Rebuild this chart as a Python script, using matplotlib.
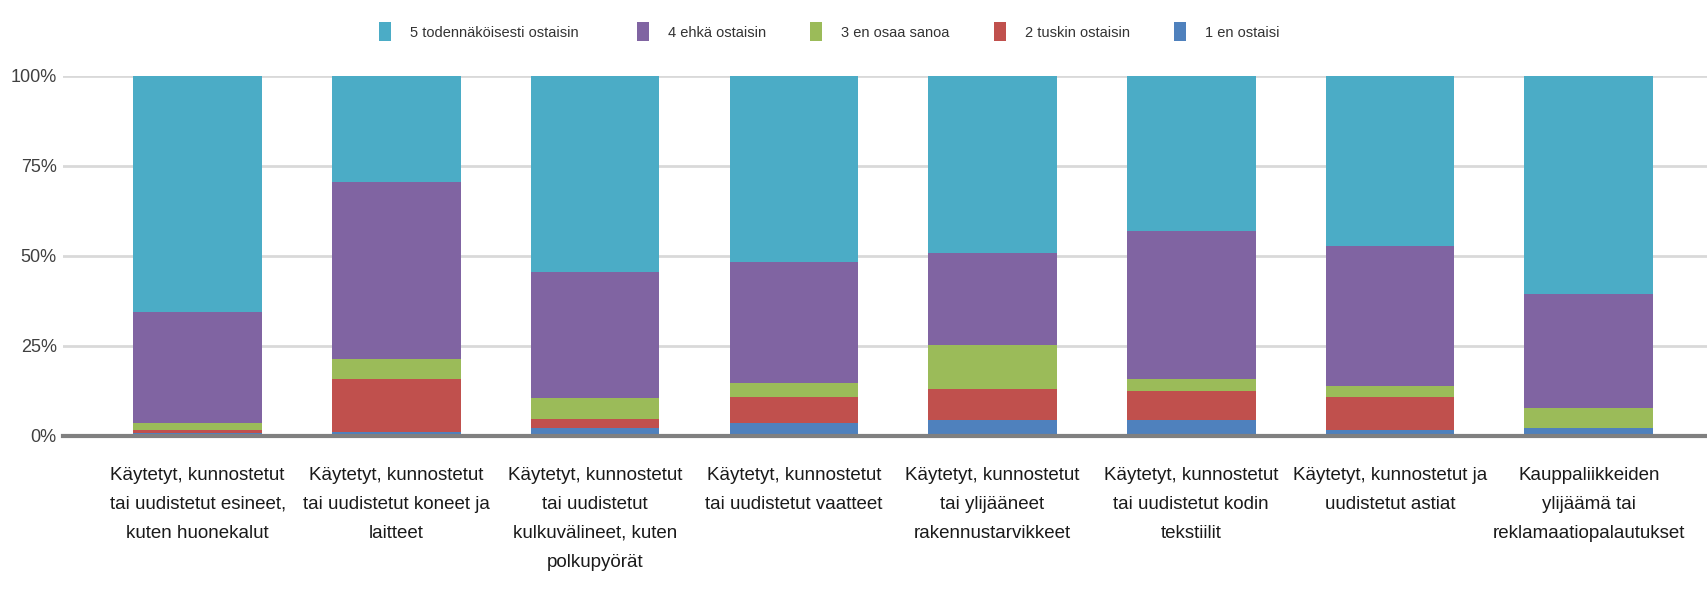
import matplotlib.pyplot as plt
import numpy as np

# ======== data (percent of answers) ===============================
categories = [
    "Käytetyt, kunnostetut\ntai uudistetut esineet,\nkuten huonekalut",
    "Käytetyt, kunnostetut\ntai uudistetut koneet ja\nlaitteet",
    "Käytetyt, kunnostetut\ntai uudistetut\nkulkuvälineet, kuten\npolkupyörät",
    "Käytetyt, kunnostetut\ntai uudistetut vaatteet",
    "Käytetyt, kunnostetut\ntai ylijääneet\nrakennustarvikkeet",
    "Käytetyt, kunnostetut\ntai uudistetut kodin\ntekstiilit",
    "Käytetyt, kunnostetut ja\nuudistetut astiat",
    "Kauppaliikkeiden\nylijäämä tai\nreklamaatiopalautukset",
]

en_ostaisi = [0.8, 1.0, 2.3, 3.7, 4.3, 4.3, 1.7, 2.2]
tuskin = [0.9, 14.7, 2.5, 7.2, 8.7, 8.2, 9.2, 0.0]
en_osaa = [2.0, 5.6, 5.7, 3.7, 12.3, 3.3, 3.0, 5.5]
ehka = [30.8, 49.2, 35.1, 33.6, 25.6, 41.1, 39.0, 31.7]
todennakoisesti = [65.5, 29.5, 54.4, 51.8, 49.1, 43.1, 47.1, 60.6]

series_names = ["1 en ostaisi", "2 tuskin ostaisin", "3 en osaa sanoa",
                "4 ehkä ostaisin", "5 todennäköisesti ostaisin"]
series_colors = ["#4F81BD", "#C0504D", "#9BBB59", "#8064A2", "#4BACC6"]
y_ticks = [0, 25, 50, 75, 100]
y_tick_labels = ["0%", "25%", "50%", "75%", "100%"]

plt.rcParams['font.family'] = ['Liberation Sans', 'DejaVu Sans']

fig = plt.figure(figsize=(17.08, 5.89), dpi=100)
ax = fig.add_axes([0.0369, 0.2598, 0.9631, 0.6112])

x = np.arange(len(categories))
bottom = np.zeros(len(categories))
handles = []
for name, color, vals in zip(series_names, series_colors,
                             [en_ostaisi, tuskin, en_osaa, ehka, todennakoisesti]):
    bars = ax.bar(x, vals, bottom=bottom, width=0.647, color=color,
                  label=name, zorder=3, linewidth=0)
    handles.append(bars)
    bottom += np.array(vals)

ax.set_xlim(-0.677, 7.6)
ax.set_ylim(0, 100)
ax.set_yticks(y_ticks)
ax.set_yticklabels(y_tick_labels, fontsize=13, color="#404040")
ax.set_xticks(x)
ax.set_xticklabels(categories, fontsize=13.5, color="#1a1a1a")
for lbl in ax.get_xticklabels():
    lbl.set_linespacing(1.93)
ax.tick_params(axis='x', length=0, pad=22)
ax.tick_params(axis='y', length=0, pad=4.5)

ax.grid(axis='y', color="#d9d9d9", linewidth=2, zorder=0)
for side in ["top", "right", "left"]:
    ax.spines[side].set_visible(False)
ax.spines["bottom"].set_color("#808080")
ax.spines["bottom"].set_linewidth(3)
ax.spines["bottom"].set_zorder(4)

# legend in two groups: first entry stands a bit apart from the others
leg_kw = dict(loc='center', frameon=False, fontsize=10.5, handlelength=0.82,
              handleheight=1.65, handletextpad=1.3, labelcolor="#333333")
h = handles[::-1]
n = series_names[::-1]
fig.legend(h[:1], n[:1], bbox_to_anchor=(0.2805, 0.946), ncol=1, **leg_kw)
fig.legend(h[1:], n[1:], bbox_to_anchor=(0.561, 0.946), ncol=4,
           columnspacing=3.05, **leg_kw)

plt.savefig("out.png", dpi=100)
